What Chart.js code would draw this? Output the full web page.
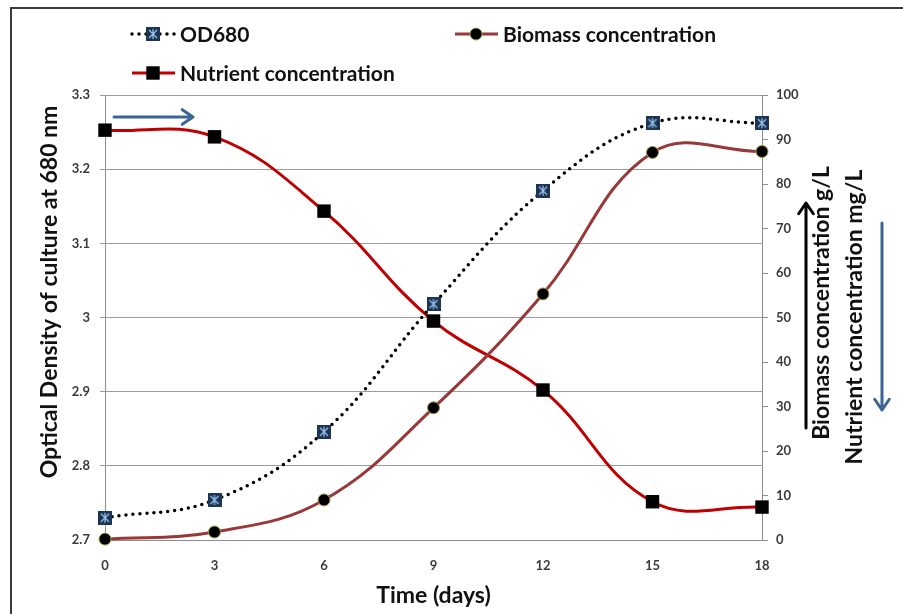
<!DOCTYPE html>
<html>
<head>
<meta charset="utf-8">
<script src="https://cdn.jsdelivr.net/npm/chart.js@4/dist/chart.umd.min.js"></script>
<style>
    html, body { margin: 0; padding: 0; background: #fff; }
    #wrap { position: relative; width: 903px; height: 614px; }
</style>
</head>
<body>
<div id="wrap"><canvas id="growthChart"></canvas></div>
<script>
const days = [0, 3, 6, 9, 12, 15, 18];
const od680 = [2.73, 2.754, 2.846, 3.018, 3.171, 3.262, 3.262];
const biomass = [0.2, 1.8, 9.0, 29.7, 55.3, 87.1, 87.3];
const nutrient = [92.1, 90.6, 73.9, 49.2, 33.7, 8.6, 7.4];

const FONT = "Lato, 'Open Sans', 'Liberation Sans', sans-serif";
const TICK_COLOR = '#3a3a3a';
const GRID_COLOR = '#9c9c9c';

// OD680 marker: dark square with a light star on it
const odMarker = (() => {
    const c = document.createElement('canvas');
    c.width = 14;
    c.height = 14;
    const g = c.getContext('2d');
    g.fillStyle = '#1c3555';
    g.fillRect(0, 0, 14, 14);
    g.strokeStyle = '#9cc3ec';
    g.lineWidth = 1.2;
    g.beginPath();
    g.moveTo(3, 3); g.lineTo(11, 11);
    g.moveTo(11, 3); g.lineTo(3, 11);
    g.moveTo(7, 2); g.lineTo(7, 12);
    g.stroke();
    return c;
})();

const toPoints = (values) => days.map((d, i) => ({ x: d, y: values[i] }));

const drawArrow = (ctx, x1, y1, x2, y2, color) => {
    const ang = Math.atan2(y2 - y1, x2 - x1);
    const head = 13;
    ctx.save();
    ctx.strokeStyle = color;
    ctx.lineWidth = 3;
    ctx.lineCap = 'round';
    ctx.lineJoin = 'round';
    ctx.beginPath();
    ctx.moveTo(x1, y1);
    ctx.lineTo(x2, y2);
    ctx.moveTo(x2 - head * Math.cos(ang - 0.6), y2 - head * Math.sin(ang - 0.6));
    ctx.lineTo(x2, y2);
    ctx.lineTo(x2 - head * Math.cos(ang + 0.6), y2 - head * Math.sin(ang + 0.6));
    ctx.stroke();
    ctx.restore();
};

const drawMarker = (ctx, ds, x, y) => {
    ctx.save();
    ctx.fillStyle = ds.pointBackgroundColor;
    ctx.strokeStyle = ds.pointBorderColor;
    ctx.lineWidth = ds.pointBorderWidth;
    Chart.helpers.drawPoint(ctx, {
        pointStyle: ds.pointStyle,
        radius: ds.pointRadius,
        borderWidth: ds.pointBorderWidth,
        rotation: 0,
    }, x, y);
    ctx.restore();
};

const drawUpText = (ctx, text, x, y) => {
    ctx.save();
    ctx.fillStyle = '#111';
    ctx.font = `bold 23px ${FONT}`;
    ctx.textAlign = 'center';
    ctx.textBaseline = 'middle';
    ctx.translate(x, y);
    ctx.rotate(-Math.PI / 2);
    ctx.fillText(text, 0, 0);
    ctx.restore();
};

const legendSpots = [
    { x: 132, y: 34 },
    { x: 455, y: 34 },
    { x: 132, y: 73 },
];

const decorations = {
    id: 'decorations',
    beforeDraw(chart) {
        const { ctx } = chart;
        ctx.save();
        ctx.strokeStyle = '#3a3a3a';
        ctx.lineWidth = 2;
        ctx.beginPath();
        ctx.moveTo(11, 614);
        ctx.lineTo(11, 8);
        ctx.lineTo(903, 8);
        ctx.stroke();
        ctx.restore();
    },
    afterDraw(chart) {
        const { ctx, chartArea: area } = chart;

        // legend
        chart.data.datasets.forEach((ds, i) => {
            const spot = legendSpots[i];
            ctx.save();
            ctx.strokeStyle = ds.borderColor;
            ctx.lineWidth = ds.borderWidth;
            ctx.lineCap = ds.borderCapStyle || 'butt';
            ctx.setLineDash(ds.borderDash || []);
            ctx.beginPath();
            ctx.moveTo(spot.x, spot.y);
            ctx.lineTo(spot.x + 43, spot.y);
            ctx.stroke();
            ctx.restore();
            drawMarker(ctx, ds, spot.x + 21, spot.y);
            ctx.save();
            ctx.fillStyle = '#111';
            ctx.font = `bold 21px ${FONT}`;
            ctx.textBaseline = 'middle';
            ctx.fillText(ds.label, spot.x + 48, spot.y + 1);
            ctx.restore();
        });

        // axis titles reading upward
        drawUpText(ctx, 'Optical Density of culture at 680 nm', 50, 292);
        drawUpText(ctx, 'Biomass concentration g/L', area.right + 60, 303);
        drawUpText(ctx, 'Nutrient concentration mg/L', area.right + 93, 317);

        // arrows
        drawArrow(ctx, area.left + 9, area.top + 22, area.left + 88, area.top + 22, '#3a6594');
        drawArrow(ctx, area.right + 44, 428, area.right + 44, 203, '#000');
        drawArrow(ctx, area.right + 120, 223, area.right + 120, 410, '#3a6594');
    },
};

new Chart(document.getElementById('growthChart'), {
    type: 'line',
    data: {
        datasets: [
            {
                label: 'OD680',
                data: toPoints(od680),
                yAxisID: 'y',
                borderColor: '#000',
                borderWidth: 3.5,
                borderDash: [0, 7],
                borderCapStyle: 'round',
                pointStyle: odMarker,
                pointRadius: 7,
                pointBackgroundColor: '#1c3555',
                pointBorderColor: '#000',
                pointBorderWidth: 0,
                tension: 0.4,
                clip: false,
                order: 0,
            },
            {
                label: 'Biomass concentration',
                data: toPoints(biomass),
                yAxisID: 'y1',
                borderColor: '#983838',
                borderWidth: 3,
                pointStyle: 'circle',
                pointRadius: 6,
                pointBackgroundColor: '#000',
                pointBorderColor: '#9b9b45',
                pointBorderWidth: 1,
                tension: 0.4,
                clip: false,
                order: 1,
            },
            {
                label: 'Nutrient concentration',
                data: toPoints(nutrient),
                yAxisID: 'y1',
                borderColor: '#c00000',
                borderWidth: 3,
                pointStyle: 'rect',
                pointRadius: 9.5,
                pointBackgroundColor: '#000',
                pointBorderColor: '#000',
                pointBorderWidth: 0,
                tension: 0.4,
                clip: false,
                order: 2,
            },
        ],
    },
    options: {
        responsive: true,
        maintainAspectRatio: false,
        animation: false,
        layout: { padding: { top: 95, right: 101, bottom: 5, left: 35 } },
        plugins: {
            legend: { display: false },
            tooltip: { enabled: false },
        },
        scales: {
            x: {
                type: 'linear',
                min: 0,
                max: 18,
                afterFit: (scale) => { scale.height = 69; },
                ticks: {
                    stepSize: 3,
                    color: TICK_COLOR,
                    font: { family: FONT, size: 13, weight: 'bold' },
                    padding: 10,
                },
                grid: { display: false },
                border: { display: true, color: '#8c8c8c', width: 1 },
                title: {
                    display: true,
                    text: 'Time (days)',
                    color: '#111',
                    font: { family: FONT, size: 23, weight: 'bold' },
                    padding: { top: 0, bottom: 0 },
                },
            },
            y: {
                position: 'left',
                min: 2.7,
                max: 3.3,
                afterFit: (scale) => { scale.width = 70; },
                ticks: {
                    stepSize: 0.1,
                    color: TICK_COLOR,
                    font: { family: FONT, size: 13, weight: 'bold' },
                    padding: 10,
                    callback: (v) => String(Math.round(v * 10) / 10),
                },
                grid: { color: GRID_COLOR, lineWidth: 1, tickLength: 5 },
                border: { display: true, color: '#8c8c8c', width: 1 },
            },
            y1: {
                position: 'right',
                min: 0,
                max: 100,
                afterFit: (scale) => { scale.width = 40; },
                ticks: {
                    stepSize: 10,
                    color: TICK_COLOR,
                    font: { family: FONT, size: 13, weight: 'bold' },
                    padding: 8,
                },
                grid: { drawOnChartArea: false, color: '#8c8c8c', tickLength: 6 },
                border: { display: true, color: '#8c8c8c', width: 1 },
            },
        },
    },
    plugins: [decorations],
});
</script>
</body>
</html>
